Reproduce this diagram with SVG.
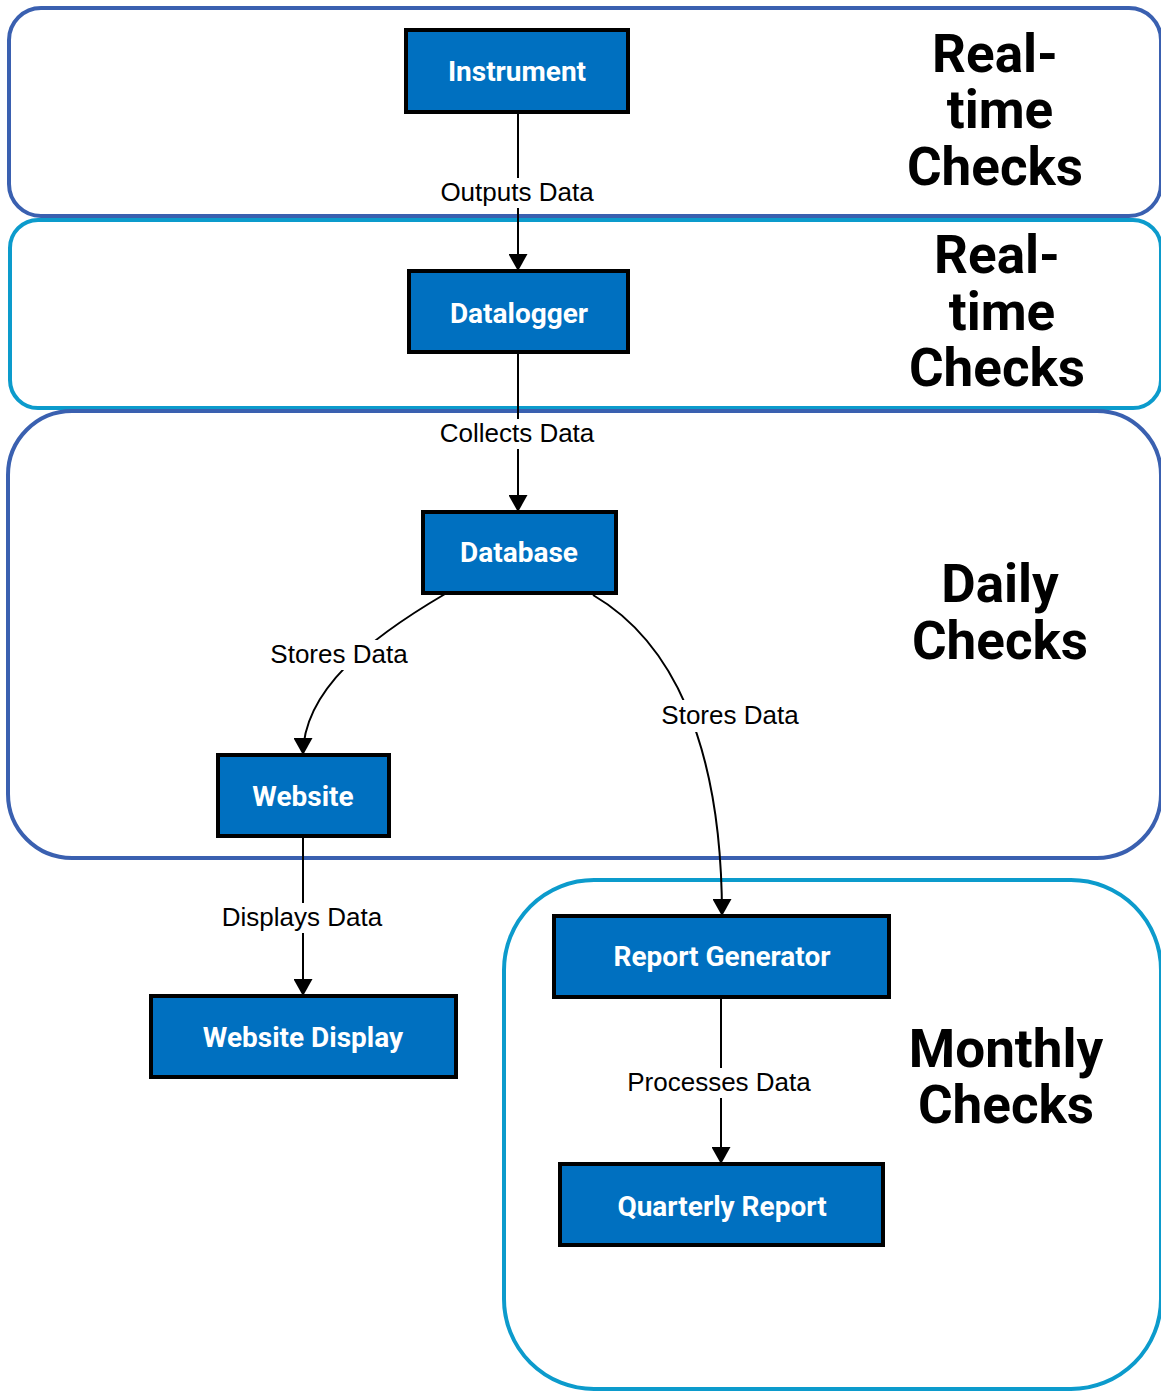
<svg xmlns="http://www.w3.org/2000/svg" width="1161" height="1391" viewBox="0 0 1161 1391">
<defs>
<style>
.cont-dark{fill:none;stroke:#3a60b0;stroke-width:4}
.cont-cyan{fill:none;stroke:#0c9bcc;stroke-width:4}
.node rect{fill:#0070c0;stroke:#000;stroke-width:4}
.node text{font-family:Roboto,"Liberation Sans",sans-serif;font-weight:bold;font-size:28px;fill:#fff;text-anchor:middle}
.grp{font-family:Roboto,"Liberation Sans",sans-serif;font-weight:bold;font-size:53px;fill:#000;text-anchor:middle}
.edge{fill:none;stroke:#000;stroke-width:2}
.lbl{font-family:"Liberation Sans",Arial,sans-serif;font-size:26px;fill:#000;text-anchor:middle}
.lblbg{fill:#fff}
</style>
<marker id="arr" viewBox="0 0 17 19" refX="17" refY="9.5" markerWidth="17" markerHeight="19" markerUnits="userSpaceOnUse" orient="auto">
<path d="M0,0 L17,9.5 L0,19 Z" fill="#000"/>
</marker>
</defs>
<rect width="1161" height="1391" fill="#fff"/>

<g id="containers">
<rect id="grp-realtime-1" class="cont-dark" x="9" y="8" width="1152" height="208" rx="32" ry="32"/>
<rect id="grp-realtime-2" class="cont-cyan" x="10" y="220" width="1151" height="188" rx="28" ry="28"/>
<rect id="grp-daily" class="cont-dark" x="8" y="411" width="1153" height="447" rx="64" ry="64"/>
<rect id="grp-monthly" class="cont-cyan" x="504" y="880" width="657" height="509" rx="90" ry="90"/>
</g>

<g id="group-labels">
<text class="grp" x="995" y="72">Real-</text>
<text class="grp" x="1000" y="128">time</text>
<text class="grp" x="995" y="185">Checks</text>
<text class="grp" x="997" y="273">Real-</text>
<text class="grp" x="1002" y="330">time</text>
<text class="grp" x="997" y="386">Checks</text>
<text class="grp" x="1000" y="602">Daily</text>
<text class="grp" x="1000" y="659">Checks</text>
<text class="grp" x="1006" y="1067">Monthly</text>
<text class="grp" x="1006" y="1123">Checks</text>
</g>

<g id="connectors">
<path class="edge" d="M518,112 L518,271" marker-end="url(#arr)"/>
<path class="edge" d="M518,352 L518,512" marker-end="url(#arr)"/>
<path class="edge" d="M445,594 C370,638 303,690 303,755" marker-end="url(#arr)"/>
<path class="edge" d="M593,595 C670,640 722,740 722,916" marker-end="url(#arr)"/>
<path class="edge" d="M303,836 L303,996" marker-end="url(#arr)"/>
<path class="edge" d="M721,997 L721,1164" marker-end="url(#arr)"/>
<rect class="lblbg" x="440" y="178" width="154" height="30"/>
<text class="lbl" x="517" y="201">Outputs Data</text>
<rect class="lblbg" x="438" y="419" width="158" height="30"/>
<text class="lbl" x="517" y="442">Collects Data</text>
<rect class="lblbg" x="268" y="640" width="142" height="30"/>
<text class="lbl" x="339" y="663">Stores Data</text>
<rect class="lblbg" x="659" y="700" width="142" height="32"/>
<text class="lbl" x="730" y="724">Stores Data</text>
<rect class="lblbg" x="219" y="903" width="166" height="30"/>
<text class="lbl" x="302" y="926">Displays Data</text>
<rect class="lblbg" x="625" y="1068" width="189" height="30"/>
<text class="lbl" x="719" y="1091">Processes Data</text>
</g>

<g id="node-instrument" class="node">
<rect x="406" y="30" width="222" height="82"/>
<text x="517" y="81">Instrument</text>
</g>
<g id="node-datalogger" class="node">
<rect x="409" y="271" width="219" height="81"/>
<text x="519" y="323">Datalogger</text>
</g>
<g id="node-database" class="node">
<rect x="423" y="512" width="193" height="81"/>
<text x="519" y="562">Database</text>
</g>
<g id="node-website" class="node">
<rect x="218" y="755" width="171" height="81"/>
<text x="303" y="806">Website</text>
</g>
<g id="node-website-display" class="node">
<rect x="151" y="996" width="305" height="81"/>
<text x="303" y="1047">Website Display</text>
</g>
<g id="node-report-generator" class="node">
<rect x="554" y="916" width="335" height="81"/>
<text x="722" y="966">Report Generator</text>
</g>
<g id="node-quarterly-report" class="node">
<rect x="560" y="1164" width="323" height="81"/>
<text x="722" y="1216">Quarterly Report</text>
</g>
</svg>
